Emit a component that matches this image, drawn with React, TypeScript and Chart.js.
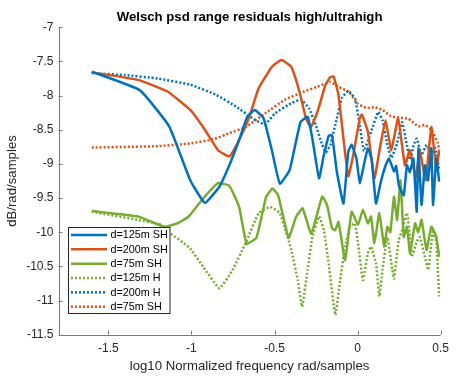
import React, { useEffect, useRef } from "react";
import { Chart, registerables } from "chart.js";

Chart.register(...registerables);

const TITLE = "Welsch psd range residuals high/ultrahigh";
const X_LABEL = "log10 Normalized frequency rad/samples";
const Y_LABEL = "dB/rad/samples";
const X_MIN = -1.8;
const X_MAX = 0.5;
const Y_MIN = -11.5;
const Y_MAX = -7;
const X_TICKS = [-1.5, -1, -0.5, 0, 0.5];
const Y_TICKS = [-11.5, -11, -10.5, -10, -9.5, -9, -8.5, -8, -7.5, -7];
const LABELS = ["d=125m SH", "d=200m SH", "d=75m SH", "d=125m H", "d=200m H", "d=75m SH"];

// d=125m SH (blue solid)
const BLUE_SH_X = [-1.6, -1.311, -1.134, -1.007, -0.919, -0.831, -0.772, -0.713, -0.664, -0.619, -0.566, -0.516, -0.468, -0.409, -0.344, -0.301, -0.272, -0.232, -0.203, -0.174, -0.154, -0.125, -0.085, -0.056, -0.036, -0.007, 0.013, 0.042, 0.062, 0.085, 0.111, 0.14, 0.169, 0.189, 0.219, 0.232, 0.248, 0.278, 0.297, 0.315, 0.336, 0.356, 0.366, 0.385, 0.405, 0.424, 0.444, 0.454, 0.474, 0.491];
const BLUE_SH_Y = [-7.65, -7.92, -8.45, -9.24, -9.57, -9.33, -9.02, -8.65, -8.31, -8.21, -8.33, -8.8, -9.29, -9.09, -8.39, -8.31, -8.63, -9.21, -8.87, -8.59, -8.58, -9.11, -9.58, -8.82, -8.72, -8.92, -9.28, -8.97, -8.77, -8.94, -9.58, -9.26, -9.02, -8.92, -9.11, -9.03, -9.31, -9.46, -9.02, -9.12, -8.92, -9.7, -8.77, -9.6, -9.02, -9.24, -8.77, -9.6, -8.92, -9.26];

// d=200m SH (orange solid)
const ORANGE_SH_X = [-1.6, -1.321, -1.144, -1.007, -0.919, -0.84, -0.772, -0.713, -0.654, -0.595, -0.516, -0.458, -0.399, -0.35, -0.311, -0.281, -0.242, -0.193, -0.164, -0.144, -0.115, -0.085, -0.056, -0.026, 0.013, 0.026, 0.062, 0.101, 0.132, 0.168, 0.203, 0.244, 0.285, 0.315, 0.35, 0.374, 0.409, 0.444, 0.474, 0.491];
const ORANGE_SH_Y = [-7.66, -7.77, -7.94, -8.21, -8.5, -8.8, -8.89, -8.65, -8.33, -7.89, -7.58, -7.48, -7.58, -7.94, -8.33, -8.46, -8.24, -7.84, -7.73, -7.72, -7.99, -8.63, -9.18, -8.87, -8.33, -8.28, -8.53, -9.21, -8.8, -8.36, -8.8, -8.33, -9.02, -8.8, -9.21, -8.8, -9.24, -8.46, -9.09, -8.8];

// d=75m SH (green solid)
const GREEN_SH_X = [-1.6, -1.321, -1.164, -1.085, -1.016, -0.928, -0.84, -0.772, -0.713, -0.668, -0.609, -0.55, -0.512, -0.478, -0.415, -0.369, -0.331, -0.279, -0.213, -0.184, -0.154, -0.134, -0.115, -0.075, -0.036, 0.003, 0.032, 0.062, 0.081, 0.101, 0.131, 0.16, 0.179, 0.197, 0.219, 0.238, 0.258, 0.278, 0.297, 0.316, 0.346, 0.365, 0.385, 0.415, 0.444, 0.474, 0.491];
const GREEN_SH_Y = [-9.69, -9.77, -9.92, -9.87, -9.77, -9.5, -9.28, -9.32, -9.63, -10.17, -10.08, -9.48, -9.36, -9.46, -10.08, -9.77, -9.65, -10.02, -9.48, -9.6, -9.94, -9.97, -9.85, -10.41, -9.7, -9.89, -9.67, -9.87, -9.77, -10.16, -9.72, -10.21, -9.92, -10.0, -9.48, -9.82, -9.24, -10.07, -9.92, -10.31, -9.87, -10.0, -9.82, -10.26, -9.92, -10.07, -10.36];

// d=125m H (green dotted)
const GREEN_H_X = [-1.6, -1.321, -1.184, -1.125, -1.046, -1.007, -0.928, -0.831, -0.752, -0.674, -0.595, -0.526, -0.468, -0.399, -0.36, -0.334, -0.301, -0.272, -0.232, -0.203, -0.174, -0.134, -0.105, -0.075, -0.046, -0.016, 0.003, 0.032, 0.062, 0.081, 0.111, 0.131, 0.15, 0.179, 0.209, 0.219, 0.248, 0.268, 0.297, 0.316, 0.326, 0.356, 0.375, 0.405, 0.425, 0.454, 0.474, 0.491];
const GREEN_H_Y = [-9.7, -9.82, -9.89, -10.02, -10.16, -10.24, -10.51, -10.82, -10.55, -10.16, -9.72, -9.63, -9.72, -10.26, -10.7, -11.09, -10.55, -10.07, -9.77, -9.97, -10.46, -11.21, -10.7, -10.21, -9.92, -9.87, -10.16, -10.7, -10.31, -10.21, -10.46, -10.94, -10.55, -10.07, -10.55, -10.68, -10.11, -9.97, -9.72, -10.07, -10.36, -10.14, -10.07, -10.36, -10.55, -9.97, -10.16, -10.94];

// d=200m H (blue dotted)
const BLUE_H_X = [-1.6, -1.399, -1.203, -1.007, -0.85, -0.732, -0.615, -0.556, -0.497, -0.399, -0.34, -0.291, -0.252, -0.213, -0.191, -0.164, -0.134, -0.095, -0.056, -0.016, 0.013, 0.038, 0.081, 0.124, 0.15, 0.179, 0.203, 0.238, 0.268, 0.291, 0.316, 0.338, 0.356, 0.385, 0.415, 0.444, 0.468, 0.491];
const BLUE_H_Y = [-7.67, -7.7, -7.75, -7.84, -7.99, -8.16, -8.36, -8.42, -8.26, -8.11, -8.06, -8.19, -8.43, -8.72, -8.83, -8.72, -8.43, -8.04, -7.93, -8.04, -8.43, -8.81, -8.53, -8.24, -8.36, -8.72, -8.91, -8.7, -8.39, -8.65, -8.94, -8.72, -8.63, -8.87, -8.72, -8.87, -8.77, -9.09];

// d=75m SH (orange dotted)
const ORANGE_H_X = [-1.6, -1.203, -1.007, -0.869, -0.772, -0.674, -0.556, -0.438, -0.321, -0.242, -0.164, -0.115, -0.056, 0.003, 0.052, 0.101, 0.15, 0.199, 0.248, 0.307, 0.366, 0.405, 0.444, 0.484, 0.491];
const ORANGE_H_Y = [-8.76, -8.74, -8.7, -8.64, -8.55, -8.46, -8.26, -8.06, -7.94, -7.87, -7.8, -7.87, -7.94, -8.12, -8.18, -8.17, -8.21, -8.3, -8.32, -8.34, -8.45, -8.43, -8.5, -8.7, -8.8];

const BLUE = "#0072BD";
const ORANGE = "#D95319";
const GREEN = "#77AC30";
const TEXT = "#262626";
const AXIS = "#7a7a7a";
const FONT = "'Liberation Sans', Arial, Helvetica, sans-serif";

const zip = (xs: number[], ys: number[]) => xs.map((x, i) => ({ x, y: ys[i] }));

const matlabPlugin = {
  id: "matlabLook",
  afterDraw(chart: any) {
    const { ctx, chartArea } = chart;
    const { left, right, top, bottom } = chartArea;
    const xs = chart.scales.x;
    const ys = chart.scales.y;
    ctx.save();
    ctx.strokeStyle = AXIS;
    ctx.lineWidth = 1;
    ctx.beginPath();
    ctx.moveTo(Math.round(left) + 0.5, top);
    ctx.lineTo(Math.round(left) + 0.5, Math.round(bottom) + 0.5);
    ctx.lineTo(right, Math.round(bottom) + 0.5);
    ctx.stroke();
    ctx.beginPath();
    X_TICKS.forEach((v) => {
      const px = Math.round(xs.getPixelForValue(v)) + 0.5;
      ctx.moveTo(px, bottom);
      ctx.lineTo(px, bottom - 4);
    });
    Y_TICKS.forEach((v) => {
      const py = Math.round(ys.getPixelForValue(v)) + 0.5;
      ctx.moveTo(left, py);
      ctx.lineTo(left + 4, py);
    });
    ctx.stroke();
    ctx.fillStyle = "#000";
    ctx.font = `bold 13.2px ${FONT}`;
    ctx.textAlign = "center";
    ctx.textBaseline = "middle";
    ctx.fillText(TITLE, (left + right) / 2, 17);
    const lx = 68.5, ly = 227.5, lw = 101.5, lh = 86;
    ctx.fillStyle = "#fff";
    ctx.fillRect(lx, ly, lw, lh);
    ctx.strokeStyle = TEXT;
    ctx.lineWidth = 1;
    ctx.strokeRect(lx, ly, lw, lh);
    ctx.font = `10.8px ${FONT}`;
    ctx.textAlign = "left";
    ctx.textBaseline = "middle";
    chart.data.datasets.forEach((ds: any, i: number) => {
      const cy = 235 + i * 14.33;
      ctx.strokeStyle = ds.borderColor;
      ctx.lineWidth = ds.borderWidth;
      ctx.lineCap = "butt";
      ctx.setLineDash(ds.borderDash || []);
      ctx.beginPath();
      ctx.moveTo(71, cy);
      ctx.lineTo(107, cy);
      ctx.stroke();
      ctx.setLineDash([]);
      ctx.fillStyle = "#000";
      ctx.fillText(ds.label, 110.5, cy + 0.5);
    });
    ctx.restore();
  },
};

export default function App() {
  const ref = useRef<HTMLCanvasElement | null>(null);
  useEffect(() => {
    if (!ref.current) return;
    Chart.defaults.font.family = FONT;
    const mk = (label: string, data: any[], color: string, dotted: boolean) => ({
      label,
      data,
      borderColor: color,
      backgroundColor: color,
      borderWidth: 2.5,
      borderDash: dotted ? [2, 2] : undefined,
      borderCapStyle: "butt",
      borderJoinStyle: "round",
      pointRadius: 0,
      tension: 0.12,
      fill: false,
    });
    const chart = new Chart(ref.current, {
      type: "line",
      data: {
        datasets: [
          mk(LABELS[0], zip(BLUE_SH_X, BLUE_SH_Y), BLUE, false),
          mk(LABELS[1], zip(ORANGE_SH_X, ORANGE_SH_Y), ORANGE, false),
          mk(LABELS[2], zip(GREEN_SH_X, GREEN_SH_Y), GREEN, false),
          mk(LABELS[3], zip(GREEN_H_X, GREEN_H_Y), GREEN, true),
          mk(LABELS[4], zip(BLUE_H_X, BLUE_H_Y), BLUE, true),
          mk(LABELS[5], zip(ORANGE_H_X, ORANGE_H_Y), ORANGE, true),
        ] as any,
      },
      options: {
        animation: false,
        responsive: false,
        maintainAspectRatio: false,
        layout: { padding: { top: 27.3, right: 7.7, bottom: 0, left: 0 } },
        plugins: { legend: { display: false }, title: { display: false }, tooltip: { enabled: false } },
        scales: {
          x: {
            type: "linear",
            min: X_MIN,
            max: X_MAX,
            grid: { display: false, drawTicks: false },
            border: { display: false },
            afterBuildTicks: (s: any) => { s.ticks = X_TICKS.map((v) => ({ value: v })); },
            afterFit: (s: any) => { s.height = 41.3; },
            ticks: { color: TEXT, font: { size: 12, family: FONT }, padding: 7, maxRotation: 0, autoSkip: false, callback: (v: any) => String(v) },
            title: { display: true, text: X_LABEL, color: TEXT, font: { size: 13.2, family: FONT }, padding: { top: 0, bottom: 2 } },
          },
          y: {
            type: "linear",
            min: Y_MIN,
            max: Y_MAX,
            grid: { display: false, drawTicks: false },
            border: { display: false },
            afterBuildTicks: (s: any) => { s.ticks = Y_TICKS.map((v) => ({ value: v })); },
            afterFit: (s: any) => { s.width = 58.5; },
            ticks: { color: TEXT, font: { size: 12, family: FONT }, padding: 5, autoSkip: false, callback: (v: any) => String(v) },
            title: { display: true, text: Y_LABEL, color: TEXT, font: { size: 13.2, family: FONT }, padding: { top: 4, bottom: 0 } },
          },
        },
      } as any,
      plugins: [matlabPlugin],
    });
    return () => chart.destroy();
  }, []);
  return (
    <div style={{ position: "fixed", left: 0, top: 0, width: 456, height: 376, background: "#fff" }}>
      <canvas ref={ref} width={456} height={376} style={{ width: 456, height: 376, display: "block" }} />
    </div>
  );
}
